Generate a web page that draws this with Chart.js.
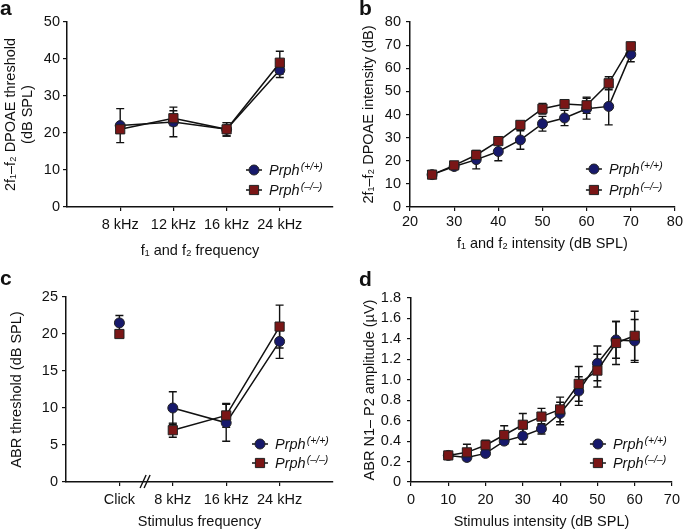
<!DOCTYPE html>
<html>
<head>
<meta charset="utf-8">
<script src="https://cdn.jsdelivr.net/npm/chart.js@4.4.1/dist/chart.umd.min.js"></script>
<style>
  body { margin: 0; background: #fff; }
  #fig { position: relative; width: 685px; height: 532px; font-family: "Liberation Sans", Arial, sans-serif; color: #111; }
  #fig canvas { position: absolute; }
  .tag { position: absolute; font-weight: bold; font-size: 21px; line-height: 1; }
</style>
</head>
<body>
<div id="fig">
  <canvas id="chart-a" width="342" height="266" style="left:0;top:0"></canvas>
  <canvas id="chart-b" width="343" height="266" style="left:342px;top:0"></canvas>
  <canvas id="chart-c" width="342" height="266" style="left:0;top:266px"></canvas>
  <canvas id="chart-d" width="343" height="266" style="left:342px;top:266px"></canvas>
  <div class="tag" style="left:0;top:-3px">a</div>
  <div class="tag" style="left:359px;top:-3px">b</div>
  <div class="tag" style="left:0;top:267px">c</div>
  <div class="tag" style="left:359px;top:268px">d</div>
</div>
<script>
// legend text
const seriesNames = ['Prph', 'Prph'];
const genotypes = ['(+/+)', '(–/–)'];

// a: DPOAE threshold vs f1/f2 frequency
const freqA = ['8 kHz', '12 kHz', '16 kHz', '24 kHz'];
const threshWtA = [22, 23, 21, 37];
const threshKoA = [21, 24, 21, 39];
const errWtA = [4.6, 4, 1.8, 2];
const errKoA = [1, 2, 1.8, 3.1];

// b: DPOAE intensity vs f1/f2 intensity
const levelsB = [25, 30, 35, 40, 45, 50, 55, 60, 65, 70];
const dpWtB = [14, 17.5, 20.5, 24, 29, 36, 38.5, 42.5, 43.5, 66];
const dpKoB = [14, 18, 22.5, 28.5, 35.5, 42.5, 44.5, 44, 53.5, 69.5];
const errWtB = [0.5, 1, 4, 4, 4, 3.2, 3.3, 4.5, 8, 3.2];
const errKoB = [0.5, 1, 1, 1.2, 1.5, 2.3, 1.2, 3.5, 2.8, 1.2];

// c: ABR threshold vs stimulus frequency
const freqC = ['Click', '8 kHz', '16 kHz', '24 kHz'];
const abrWtC = [21.5, 10, 8, 19];
const abrKoC = [20, 7, 9, 21];
const errWtC = [1, 2.2, 2.5, 2.3];
const errKoC = [0.3, 0.95, 1.6, 2.9];

// d: ABR N1-P2 amplitude vs stimulus intensity
const levelsD = [10, 15, 20, 25, 30, 35, 40, 45, 50, 55, 60];
const ampWtD = [0.26, 0.24, 0.28, 0.40, 0.45, 0.52, 0.67, 0.89, 1.16, 1.39, 1.38];
const ampKoD = [0.26, 0.29, 0.36, 0.46, 0.56, 0.64, 0.71, 0.96, 1.09, 1.36, 1.43];
const errWtD = [0.01, 0.02, 0.02, 0.03, 0.08, 0.05, 0.11, 0.14, 0.17, 0.18, 0.21];
const errKoD = [0.01, 0.08, 0.05, 0.09, 0.11, 0.08, 0.12, 0.17, 0.16, 0.21, 0.24];

const WT_FILL = '#17196b';
const KO_FILL = '#7a1616';
const INK = '#111';
const FONT = '"Liberation Sans", Arial, sans-serif';

Chart.defaults.font.family = FONT;
Chart.defaults.font.size = 14.5;
Chart.defaults.color = INK;

// whiskers drawn under the markers
const errorBars = {
  id: 'errorBars',
  beforeDatasetsDraw(chart) {
    const { ctx } = chart;
    const ys = chart.scales.y;
    chart.data.datasets.forEach((ds, i) => {
      if (!ds.errors) return;
      const meta = chart.getDatasetMeta(i);
      ctx.save();
      ctx.strokeStyle = INK;
      ctx.lineWidth = 1.4;
      meta.data.forEach((pt, j) => {
        const v = ds.data[j].y, e = ds.errors[j];
        const top = ys.getPixelForValue(v + e), bot = ys.getPixelForValue(v - e);
        ctx.beginPath();
        ctx.moveTo(pt.x, top); ctx.lineTo(pt.x, bot);
        ctx.moveTo(pt.x - 4, top); ctx.lineTo(pt.x + 4, top);
        ctx.moveTo(pt.x - 4, bot); ctx.lineTo(pt.x + 4, bot);
        ctx.stroke();
      });
      ctx.restore();
    });
  }
};

// legend inside the plot, bottom right
const prphLegend = {
  id: 'prphLegend',
  afterDatasetsDraw(chart, args, opts) {
    const { ctx, chartArea } = chart;
    const x = chartArea.right - opts.dx;
    chart.data.datasets.forEach((ds, i) => {
      const y = chartArea.bottom - opts.dy[i];
      ctx.save();
      ctx.strokeStyle = INK;
      ctx.lineWidth = 1.5;
      ctx.beginPath(); ctx.moveTo(x - 8, y); ctx.lineTo(x + 8, y); ctx.stroke();
      ctx.fillStyle = ds.backgroundColor;
      ctx.strokeStyle = '#222';
      ctx.lineWidth = 1;
      Chart.helpers.drawPoint(ctx, { pointStyle: ds.pointStyle, radius: ds.pointRadius, borderWidth: 1, rotation: 0 }, x, y);
      ctx.fillStyle = INK;
      ctx.textAlign = 'left';
      ctx.textBaseline = 'middle';
      ctx.font = 'italic 14.5px ' + FONT;
      ctx.fillText(seriesNames[i], x + 15, y + 1);
      const w = ctx.measureText(seriesNames[i]).width;
      ctx.font = 'italic 10.5px ' + FONT;
      ctx.fillText(genotypes[i], x + 16 + w, y - 3);
      ctx.restore();
    });
  }
};

// "//" on the x axis of panel c
const axisBreak = {
  id: 'axisBreak',
  afterDraw(chart, args, opts) {
    if (opts.at === undefined) return;
    const { ctx } = chart;
    const x = chart.scales.x.getPixelForValue(opts.at);
    const y = chart.chartArea.bottom;
    ctx.save();
    ctx.strokeStyle = INK;
    ctx.lineWidth = 1.4;
    ctx.beginPath();
    ctx.moveTo(x - 6, y + 6); ctx.lineTo(x, y - 7);
    ctx.moveTo(x - 2, y + 6); ctx.lineTo(x + 4, y - 7);
    ctx.stroke();
    ctx.restore();
  }
};

const pts = (xs, ys) => ys.map((y, i) => ({ x: xs[i], y }));
const catPos = labels => labels.map((_, i) => i + 1);

function makePanel(id, p) {
  const axisLine = { display: true, color: INK, width: 1.5 };
  const grid = { drawOnChartArea: false, drawTicks: true, tickLength: 4, color: INK, lineWidth: 1.2 };
  const xScale = {
    type: 'linear', min: p.xMin, max: p.xMax,
    border: axisLine, grid,
    ticks: { padding: p.xTickPad, maxRotation: 0, autoSkip: false, stepSize: p.xStep },
    title: { display: true, text: p.xTitle, padding: { top: 0, bottom: p.xTitlePad } },
    afterFit: s => { s.height = p.xHeight; }
  };
  if (p.cats) {
    xScale.afterBuildTicks = s => { s.ticks = catPos(p.cats).map(v => ({ value: v })); };
    xScale.ticks.callback = v => p.cats[v - 1];
  }
  return new Chart(document.getElementById(id), {
    type: 'line',
    data: {
      datasets: [
        { data: p.wt, errors: p.errWt, pointStyle: 'circle', pointRadius: 5,
          backgroundColor: WT_FILL, pointBackgroundColor: WT_FILL, pointBorderColor: '#222', pointBorderWidth: 1,
          borderColor: INK, borderWidth: 1.5, order: 1, segment: p.segment },
        { data: p.ko, errors: p.errKo, pointStyle: 'rect', pointRadius: 6.5,
          backgroundColor: KO_FILL, pointBackgroundColor: KO_FILL, pointBorderColor: '#222', pointBorderWidth: 1,
          borderColor: INK, borderWidth: 1.5, order: 0, segment: p.segment }
      ]
    },
    options: {
      responsive: false, animation: false, devicePixelRatio: 1,
      layout: { padding: { top: p.top, right: p.right, left: 0, bottom: 0 } },
      events: [],
      plugins: {
        legend: { display: false }, tooltip: { enabled: false },
        prphLegend: { dx: p.legDx, dy: p.legDy },
        axisBreak: { at: p.breakAt }
      },
      scales: {
        x: xScale,
        y: {
          min: p.yMin, max: p.yMax,
          border: axisLine, grid,
          ticks: { stepSize: p.yStep, padding: p.yTickPad, callback: p.yFmt },
          title: { display: true, text: p.yTitle, padding: { top: p.yTitlePad, bottom: 0 } },
          afterFit: s => { s.width = p.yWidth; }
        }
      }
    },
    plugins: [errorBars, prphLegend, axisBreak]
  });
}

makePanel('chart-a', {
  cats: freqA, xMin: 0, xMax: 5,
  wt: pts(catPos(freqA), threshWtA), ko: pts(catPos(freqA), threshKoA), errWt: errWtA, errKo: errKoA,
  yMin: 0, yMax: 50, yStep: 10,
  xTitle: 'f₁ and f₂ frequency', yTitle: ['2f₁–f₂ DPOAE threshold', '(dB SPL)'],
  top: 22, right: 9, yWidth: 67, xHeight: 59,
  xTickPad: 5, yTickPad: 3, xTitlePad: 6, yTitlePad: 2,
  legDx: 79, legDy: [37, 17]
});

makePanel('chart-b', {
  xMin: 20, xMax: 80, xStep: 10,
  wt: pts(levelsB, dpWtB), ko: pts(levelsB, dpKoB), errWt: errWtB, errKo: errKoB,
  yMin: 0, yMax: 80, yStep: 10,
  xTitle: 'f₁ and f₂ intensity (dB SPL)', yTitle: '2f₁–f₂ DPOAE intensity (dB)',
  top: 22, right: 10, yWidth: 68, xHeight: 59,
  xTickPad: 2, yTickPad: 5, xTitlePad: 13, yTitlePad: 18,
  legDx: 81, legDy: [38, 17]
});

makePanel('chart-c', {
  cats: freqC, xMin: 0, xMax: 5,
  wt: pts(catPos(freqC), abrWtC), ko: pts(catPos(freqC), abrKoC), errWt: errWtC, errKo: errKoC,
  yMin: 0, yMax: 25, yStep: 5,
  xTitle: 'Stimulus frequency', yTitle: 'ABR threshold (dB SPL)',
  top: 31, right: 9, yWidth: 66, xHeight: 50,
  xTickPad: 5, yTickPad: 4, xTitlePad: 1, yTitlePad: 8,
  legDx: 73, legDy: [38, 19],
  breakAt: 1.5,
  segment: { borderColor: c => c.p0DataIndex === 0 ? 'rgba(0,0,0,0)' : INK }
});

makePanel('chart-d', {
  xMin: 0, xMax: 70, xStep: 10,
  wt: pts(levelsD, ampWtD), ko: pts(levelsD, ampKoD), errWt: errWtD, errKo: errKoD,
  yMin: 0, yMax: 1.8, yStep: 0.2, yFmt: v => v === 0 ? '0' : v.toFixed(1),
  xTitle: 'Stimulus intensity (dB SPL)', yTitle: 'ABR N1– P2 amplitude (µV)',
  top: 32, right: 10, yWidth: 69, xHeight: 50,
  xTickPad: 5, yTickPad: 6, xTitlePad: 1, yTitlePad: 19,
  legDx: 74, legDy: [38, 19]
});
</script>
</body>
</html>
